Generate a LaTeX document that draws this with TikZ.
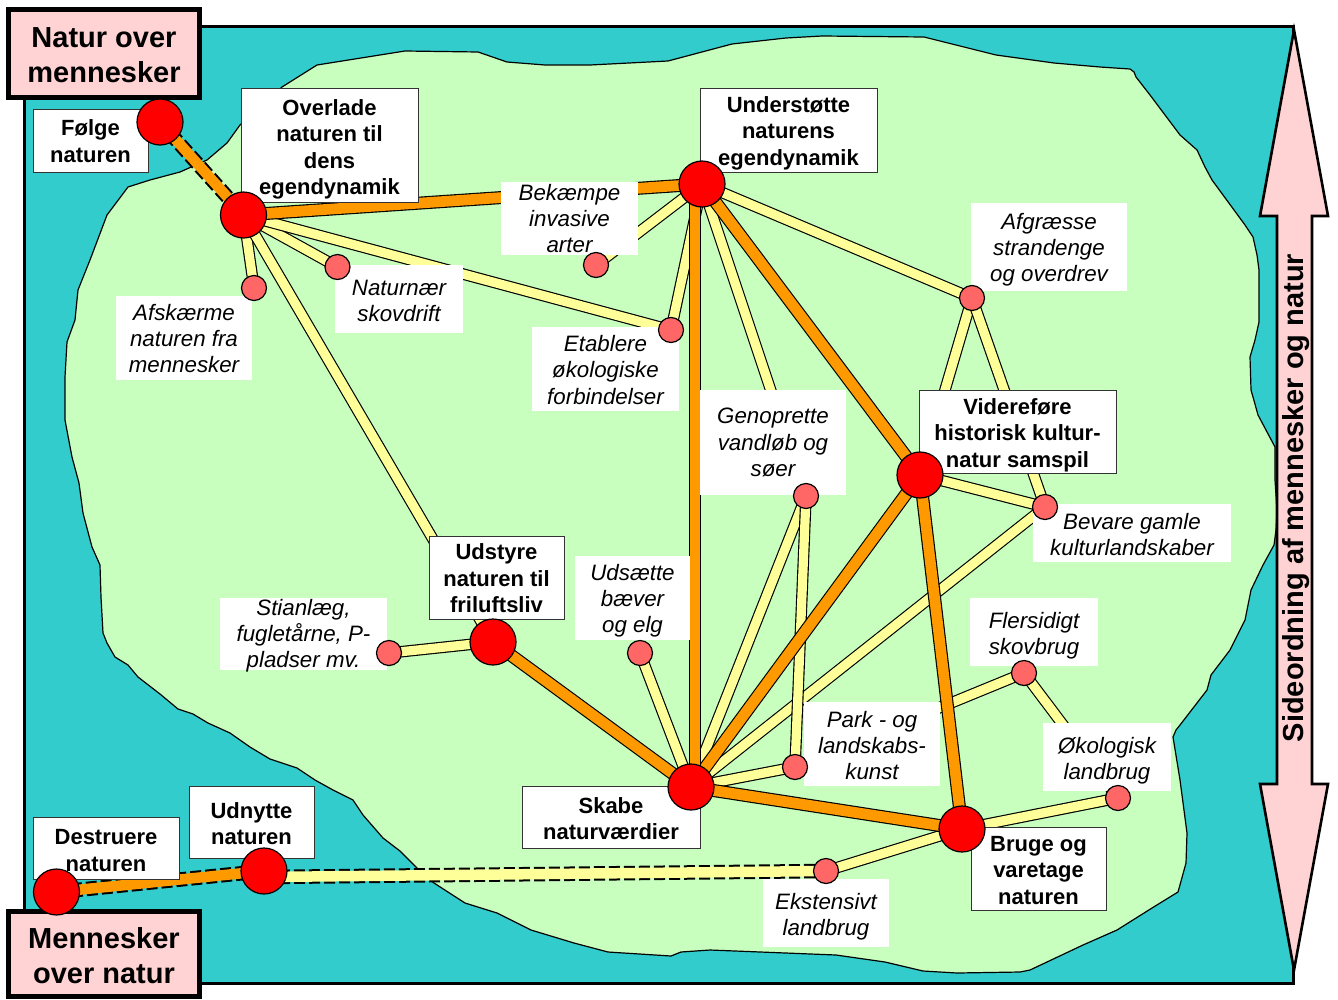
\documentclass[tikz,border=0pt]{standalone}
\usepackage{fontspec}
\setmainfont{Liberation Sans}
\pgfdeclarelayer{land}
\pgfdeclarelayer{edges}
\pgfdeclarelayer{boxes}
\pgfsetlayers{land,edges,boxes,main}
\definecolor{seacol}{HTML}{33CCCC}
\definecolor{landcol}{HTML}{C8FFBF}
\definecolor{pinkcol}{HTML}{FFD3D3}
\definecolor{dotcol}{HTML}{FF6666}
\definecolor{redcol}{HTML}{FF0000}
\definecolor{yelcol}{HTML}{FFFF99}
\definecolor{orgcol}{HTML}{FF9900}
\tikzset{
  x=1pt,y=-1pt,
  bigbox/.style={draw=black!80,line width=1pt,fill=white,inner sep=0pt,outer sep=0pt,align=center,
    font=\bfseries\fontsize{22}{26.5}\selectfont},
  itbox/.style={fill=white,inner sep=0pt,outer sep=0pt,align=center,
    font=\itshape\fontsize{22.3}{26.2}\selectfont},
  titlebox/.style={draw=black,line width=4.5pt,fill=pinkcol,inner sep=0pt,outer sep=0pt,align=center,
    font=\bfseries\fontsize{29}{35}\selectfont},
  bigdot/.style={circle,draw=black,line width=1.2pt,fill=redcol,inner sep=0pt,minimum size=46pt},
  smalldot/.style={circle,draw=black,line width=1.2pt,fill=dotcol,inner sep=0pt,minimum size=25pt},
  yedge/.style={preaction={draw=black,line width=11.5pt},draw=yelcol,line width=9.2pt},
  oedge/.style={preaction={draw=black,line width=13pt},draw=orgcol,line width=10.7pt},
  ovedge/.style={preaction={draw=black,line width=12pt},draw=orgcol,line width=9.7pt},
  yedged/.style={preaction={draw=black,line width=14.5pt,dash pattern=on 11pt off 4pt},draw=yelcol,line width=10.5pt},
  oedged/.style={preaction={draw=black,line width=14.5pt,dash pattern=on 11pt off 4pt},draw=orgcol,line width=10.5pt},
}
\newcommand{\boxat}[6]{%
  \node[#1,minimum width=#5-#3,minimum height=#6-#4,anchor=north west] (#2) at (#3,#4)}
\newcommand{\dn}[1]{\rule{0pt}{\dimexpr 16pt+2\dimexpr #1pt\relax\relax}}
\begin{document}
\begin{tikzpicture}
\useasboundingbox (0,0) rectangle (1338,999);
\begin{pgfonlayer}{land}
\fill[seacol] (24,26) rectangle (1293,983);
\draw[fill=landcol,line width=1.2pt,line join=round]
 (240,125) -- (282,87) -- (317,65) -- (405,51) -- (478,52) -- (507,62) -- (545,65) -- (590,65) -- (668,61)
 -- (732,44) -- (786,38) -- (822,36) -- (924,37) -- (996,55) -- (1054,63) -- (1100,67) -- (1130,69)
 -- (1134,72) -- (1136,77) -- (1150,95) -- (1180,135) -- (1197,150) -- (1205,167) -- (1212,180)
 -- (1245,225) -- (1253,237) -- (1257,255) -- (1259,270) -- (1259,322) -- (1255,340) -- (1250,357)
 -- (1251,390) -- (1253,397) -- (1258,415) -- (1275,447) -- (1275,480) -- (1277,510) -- (1276,530)
 -- (1274,545) -- (1263,565) -- (1251,590) -- (1245,620) -- (1230,650) -- (1211,675) -- (1207,690)
 -- (1180,725) -- (1176,730) -- (1173,737) -- (1180,780) -- (1187,833) -- (1186,863) -- (1178,892)
 -- (1152,908) -- (1117,930) -- (1083,945) -- (1030,970) -- (1020,972) -- (957,973) -- (923,971)
 -- (885,962) -- (836,955) -- (710,950) -- (681,952) -- (671,956) -- (608,952) -- (574,943) -- (531,930)
 -- (497,913) -- (465,903) -- (434,883) -- (419,870) -- (400,851) -- (383,838) -- (363,815) -- (353,800)
 -- (333,790) -- (315,780) -- (297,768) -- (270,759) -- (250,747) -- (230,733) -- (208,723) -- (193,714)
 -- (178,709) -- (160,694) -- (138,677) -- (128,665) -- (115,657) -- (107,643) -- (103,633) -- (101,597)
 -- (100,565) -- (92,547) -- (83,513) -- (79,483) -- (72,457) -- (65,420) -- (65,377) -- (67,342)
 -- (75,320) -- (78,290) -- (90,260) -- (107,215) -- (128,187) -- (150,180) -- (180,172) -- (207,160)
 -- (227,143) -- cycle;
\draw[line width=3pt] (24,26) rectangle (1293,983);
\draw[line width=2.6pt,fill=pinkcol,line join=miter]
 (1294,30) -- (1328,216) -- (1312,216) -- (1312,784) -- (1328,784) -- (1294,970) -- (1260,784)
 -- (1277,784) -- (1277,216) -- (1260,216) -- cycle;
\end{pgfonlayer}

\node[rotate=90,font=\bfseries\fontsize{29}{35}\selectfont,inner sep=0pt] (side) at (1296,498) {Sideordning af mennesker og natur};

\begin{pgfonlayer}{boxes}
\boxat{titlebox}{tNat}{8.5}{9.5}{199.5}{97.5} {\dn{4}Natur over\\mennesker};
\boxat{titlebox}{tMen}{8.5}{911.5}{199.5}{996.5} {\dn{4.5}Mennesker\\over natur};
\boxat{bigbox}{bFoelge}{33}{109}{148}{172} {\dn{0.5}Følge\\naturen};
\boxat{bigbox}{bOver}{241}{88}{418}{202.5} {\dn{4}Overlade\\naturen til\\dens\\egendynamik};
\boxat{bigbox}{bUnder}{700}{88}{877}{172} {\dn{3}Understøtte\\naturens\\egendynamik};
\boxat{bigbox}{bVider}{919}{390}{1116}{473} {\dn{3.5}Videreføre\\historisk kultur-\\natur samspil};
\boxat{bigbox}{bUdst}{429}{536}{564}{619} {\dn{1}Udstyre\\naturen til\\friluftsliv};
\boxat{bigbox}{bSkabe}{522}{786}{700}{848} {\dn{1.5}Skabe\\naturværdier};
\boxat{bigbox}{bBruge}{971}{827}{1106}{910} {\dn{1.5}Bruge og\\varetage\\naturen};
\boxat{bigbox}{bDestr}{33}{817}{179}{879} {\dn{2}Destruere\\naturen};
\boxat{bigbox}{bUdny}{189}{786}{314}{858} {\dn{1.5}Udnytte\\naturen};
\boxat{itbox}{iAfsk}{116}{296}{252}{380} {\dn{0.5}Afskærme\\naturen fra\\mennesker};
\boxat{itbox}{iNatn}{335}{265}{463}{333} {\dn{1.5}Naturnær\\skovdrift};
\boxat{itbox}{iBek}{501}{182}{638}{255} {Bekæmpe\\invasive\\arter};
\boxat{itbox}{iEtab}{532}{327}{679}{411} {\dn{1}Etablere\\økologiske\\forbindelser};
\boxat{itbox}{iAfgr}{971}{203}{1127}{291} {\dn{3}Afgræsse\\strandenge\\og overdrev};
\boxat{itbox}{iGeno}{700}{390}{846}{495} {Genoprette\\vandløb og\\søer};
\boxat{itbox}{iBev}{1033}{504}{1231}{562} {\dn{1.5}Bevare gamle\\kulturlandskaber};
\boxat{itbox}{iUds}{575}{556}{690}{640} {\dn{3}Udsætte\\bæver\\og elg};
\boxat{itbox}{iStiaBox}{220}{598}{387}{670} {};
\node[itbox,fill=none] (iStia) at ([yshift=-2pt]iStiaBox.center) {Stianlæg,\\fugletårne, P-\\pladser mv.};
\boxat{itbox}{iFler}{970}{598}{1098}{666} {\dn{3.5}Flersidigt\\skovbrug};
\boxat{itbox}{iPark}{804}{702}{940}{786} {\dn{1.5}Park - og\\landskabs-\\kunst};
\boxat{itbox}{iOko}{1043}{723}{1171}{791} {\dn{4}Økologisk\\landbrug};
\boxat{itbox}{iEks}{763}{879}{889}{947} {\dn{3.5}Ekstensivt\\landbrug};
\end{pgfonlayer}

\node[bigdot] (dFoelge) at (160,122) {};
\node[bigdot] (dOver) at (243.5,215) {};
\node[bigdot] (dUnder) at (702,184) {};
\node[bigdot] (dVider) at (920,475) {};
\node[bigdot] (dUdst) at (493,642) {};
\node[bigdot] (dSkabe) at (691,787) {};
\node[bigdot] (dBruge) at (962,829) {};
\node[bigdot] (dDestr) at (56.5,892) {};
\node[bigdot] (dUdny) at (264,871) {};
\node[smalldot] (sAfsk) at (254,288) {};
\node[smalldot] (sNatn) at (337.5,267) {};
\node[smalldot] (sBek) at (596,265) {};
\node[smalldot] (sEtab) at (671,330) {};
\node[smalldot] (sAfgr) at (972,298) {};
\node[smalldot] (sGeno) at (806,496) {};
\node[smalldot] (sBev) at (1045,507) {};
\node[smalldot] (sUds) at (640,653) {};
\node[smalldot] (sStia) at (389,653) {};
\node[smalldot] (sFler) at (1024,673) {};
\node[smalldot] (sPark) at (795,767) {};
\node[smalldot] (sOko) at (1118,798) {};
\node[smalldot] (sEks) at (826,871) {};

\begin{pgfonlayer}{edges}
\foreach \a/\b in {dOver/sAfsk,dOver/sNatn,dOver/sEtab,dOver/dUdst,dUnder/sBek,dUnder/sEtab,dUnder/sGeno,
  dUnder/sAfgr,sAfgr/dVider,sAfgr/sBev,dVider/sBev,sBev/dSkabe,sGeno/dSkabe,sGeno/sPark,sPark/dSkabe,
  sUds/dSkabe,dUdst/sStia,sFler/sPark,sFler/sOko,dBruge/sOko,dBruge/sEks}
  \draw[yedge] (\a.center) -- (\b.center);
\draw[yedged] ([yshift=-6pt]dUdny.center) -- (sEks.center);
\foreach \a/\b in {dOver/dUnder,dUnder/dVider,dVider/dSkabe,dVider/dBruge,dUdst/dSkabe,dSkabe/dBruge}
  \draw[oedge] (\a.center) -- (\b.center);
\draw[ovedge] ([xshift=-7pt]dUnder.center) -- ([xshift=4pt]dSkabe.center);
\draw[oedged] (dFoelge.center) -- (dOver.center);
\draw[oedged] (dDestr.center) -- (dUdny.center);
\end{pgfonlayer}
\end{tikzpicture}
\end{document}
